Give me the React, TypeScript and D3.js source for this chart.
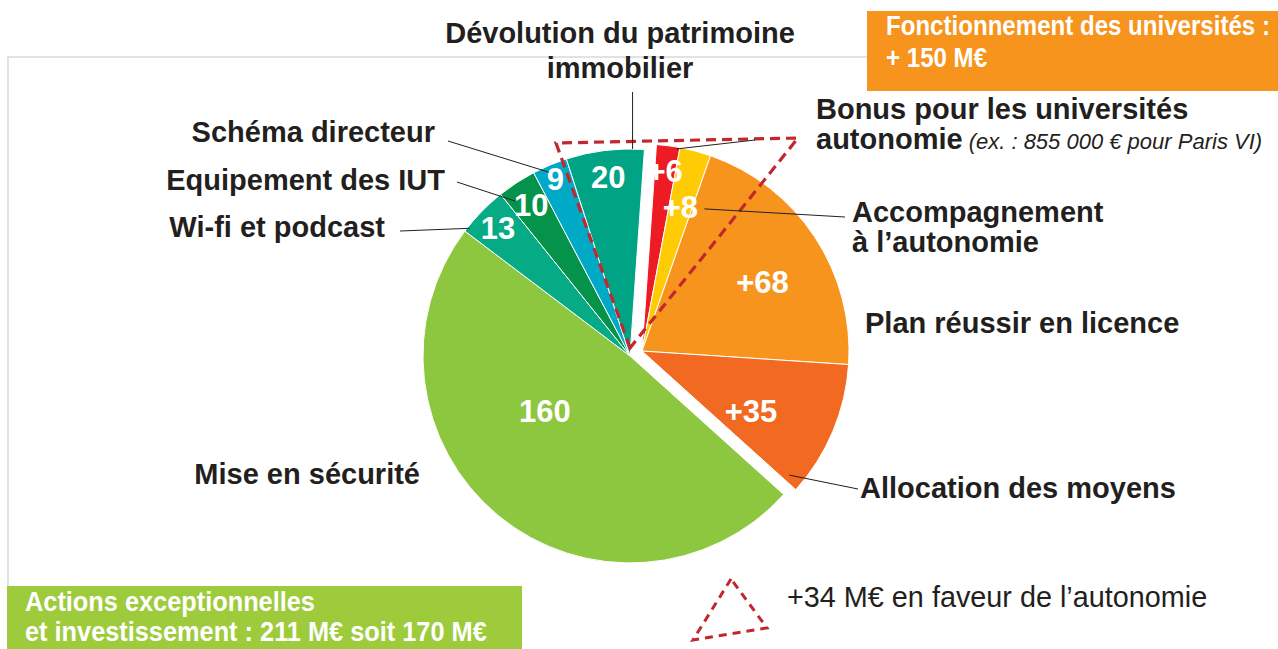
import { useLayoutEffect, useRef } from "react";
import * as d3 from "d3";

// slices, clockwise from the top: fonctionnement first, then investissement
const sliceValues = [6, 8, 68, 35, 160, 13, 10, 9, 20];
const sliceLabels = ["+6", "+8", "+68", "+35", "160", "13", "10", "9", "20"];
const sliceGroups = ["fonc", "fonc", "fonc", "fonc", "inv", "inv", "inv", "inv", "inv"];
const categoryNames = [
  ["Bonus pour les universités", "autonomie"],
  ["Accompagnement", "à l’autonomie"],
  ["Plan réussir en licence"],
  ["Allocation des moyens"],
  ["Mise en sécurité"],
  ["Wi-fi et podcast"],
  ["Equipement des IUT"],
  ["Schéma directeur"],
  ["Dévolution du patrimoine", "immobilier"],
];
const bonusNote = "(ex. : 855 000 € pour Paris VI)";
const foncTitle = ["Fonctionnement des universités :", "+ 150 M€"];
const invTitle = ["Actions exceptionnelles", "et investissement : 211 M€ soit 170 M€"];
const legendText = "+34 M€ en faveur de l’autonomie";

// styles / layout
const colors = ["#ed1c24", "#ffcb05", "#f7941d", "#f26a21", "#8dc63f", "#06ab86", "#05924a", "#00a9c6", "#00a484"];
const valueT = [0.5, 0.5, 0.55, 0.65, 0.6, 0.5, 0.5, 0.5, 0.5];
const valueK = [0.88, 0.72, 0.67, 0.6, 0.49, 0.89, 0.87, 0.93, 0.87];
// name label: position, anchor, and leader (t/k on slice -> end point), null = no leader
const nameX = [816, 852, 865, 860, 420, 385, 445, 435, 620];
const nameY = [119, 222, 333, 498, 484, 237, 190, 142, 43];
const nameAnchor = ["start", "start", "start", "start", "end", "end", "end", "end", "middle"];
const lineGap = [29.5, 29.5, 0, 0, 0, 0, 0, 0, 35];
const leaderT = [0.85, 1.5, null, 0.95, null, 0.1, 0.2, 0.4, 0.85];
const leaderK = [0.99, 0.75, null, 0.93, null, 0.99, 0.93, 0.97, 1.0];
const leaderEnd = [[755, 140], [845, 217], null, [858, 489], null, [400, 231], [457, 182], [448, 141], [null, 92]];
// box titles are condensed: squeeze the longest line to the width read on the reference
const foncWidth = 384;
const invWidth = 462;

const W = 1278;
const H = 649;
const deg = Math.PI / 180;
const cx = 636;
const cy = 353.5;
const radius = 207;
const explode = 6.5;
const ink = "#231f20";
const sans = "'Liberation Sans', Arial, Helvetica, sans-serif";
const autonomyTriangle = [[630, 348], [556, 143], [798, 138]];
const legendTriangle = [[731, 579], [693, 640], [767, 628]];

function BoxTitle({ lines, x, y, gap, width }: { lines: string[]; x: number; y: number; gap: number; width: number }) {
  const ref = useRef<SVGGElement>(null);
  useLayoutEffect(() => {
    const g = d3.select(ref.current);
    const longest = d3.max(g.selectAll<SVGTextElement, unknown>("text").nodes(), n => n.getComputedTextLength()) || width;
    g.attr("transform", `translate(${x},${y}) scale(${width / longest},1)`);
  }, []);
  return (
    <g ref={ref} transform={`translate(${x},${y})`} fontFamily={sans} fontWeight="bold" fontSize={28} fill="#fff">
      {lines.map((l, j) => <text key={j} x={0} y={j * gap}>{l}</text>)}
    </g>
  );
}

export default function App() {
  const pie = d3.pie<number>().value(d => d).sort(null)
    .startAngle(4 * deg).endAngle(4 * deg + 2 * Math.PI);
  const arcs = pie(sliceValues);
  const arc = d3.arc<d3.PieArcDatum<number>>().innerRadius(0).outerRadius(radius);

  // each group is pulled out along its own bisector
  const offsets = new Map<string, number[]>();
  Array.from(new Set(sliceGroups)).forEach(g => {
    const members = arcs.filter((_, i) => sliceGroups[i] === g);
    const mid = (d3.min(members, d => d.startAngle)! + d3.max(members, d => d.endAngle)!) / 2;
    offsets.set(g, [explode * Math.sin(mid), -explode * Math.cos(mid)]);
  });

  const polar = (i: number, t: number, k: number) => {
    const a = arcs[i];
    const ang = a.startAngle + t * (a.endAngle - a.startAngle);
    const o = offsets.get(sliceGroups[i])!;
    return [cx + o[0] + k * radius * Math.sin(ang), cy + o[1] - k * radius * Math.cos(ang)];
  };

  const line = d3.line();

  return (
    <svg width={W} height={H} style={{ position: "absolute", left: 0, top: 0, background: "#fff" }}>
      {/* frame */}
      <path d="M8,586V57H867" fill="none" stroke="#dde3e6" strokeWidth={2} />

      {/* slices */}
      <g>
        {arcs.map((a, i) => {
          const o = offsets.get(sliceGroups[i])!;
          return (
            <path key={i} d={arc(a)!} transform={`translate(${cx + o[0]},${cy + o[1]})`}
              fill={colors[i]} stroke="#fff" strokeWidth={1} />
          );
        })}
      </g>

      {/* autonomy triangle */}
      <path d={line(autonomyTriangle as [number, number][]) + "Z"} fill="none" stroke="#c1272d"
        strokeWidth={3.2} strokeDasharray="10 6" />

      {/* values inside slices */}
      <g fontFamily={sans} fontWeight="bold" fontSize={31} fill="#fff" textAnchor="middle">
        {arcs.map((a, i) => {
          const [x, y] = polar(i, valueT[i], valueK[i]);
          return <text key={i} x={x} y={y} dy="0.36em">{sliceLabels[i]}</text>;
        })}
      </g>

      {/* leaders */}
      <g stroke={ink} strokeWidth={1} fill="none">
        {arcs.map((a, i) => {
          if (leaderT[i] === null) return null;
          const p = polar(i, leaderT[i] as number, leaderK[i] as number);
          const e = leaderEnd[i]!;
          const end = [e[0] === null ? p[0] : e[0], e[1]] as [number, number];
          return <path key={i} d={line([p as [number, number], end])!} />;
        })}
      </g>

      {/* category names */}
      <g fontFamily={sans} fontWeight="bold" fontSize={29} fill={ink}>
        {categoryNames.map((lines, i) => (
          <text key={i} x={nameX[i]} y={nameY[i]} textAnchor={nameAnchor[i]}>
            {lines.map((l, j) => (
              <tspan key={j} x={nameX[i]} y={nameY[i] + j * lineGap[i]}>{l}</tspan>
            ))}
            {i === 0 && (
              <tspan dx={6} fontWeight="normal" fontStyle="italic" fontSize={22}>{bonusNote}</tspan>
            )}
          </text>
        ))}
      </g>

      {/* group boxes */}
      <rect x={867} y={11} width={W - 867} height={80} fill="#f7941d" />
      <BoxTitle lines={foncTitle} x={886} y={35} gap={32} width={foncWidth} />
      <rect x={7} y={586} width={515} height={H - 586} fill="#9ecb3c" />
      <BoxTitle lines={invTitle} x={25} y={611} gap={30} width={invWidth} />

      {/* legend */}
      <path d={line(legendTriangle as [number, number][]) + "Z"} fill="none" stroke="#c1272d"
        strokeWidth={3} strokeDasharray="8 6" />
      <text x={787} y={607} fontFamily={sans} fontSize={28.8} fill={ink}>{legendText}</text>
    </svg>
  );
}
